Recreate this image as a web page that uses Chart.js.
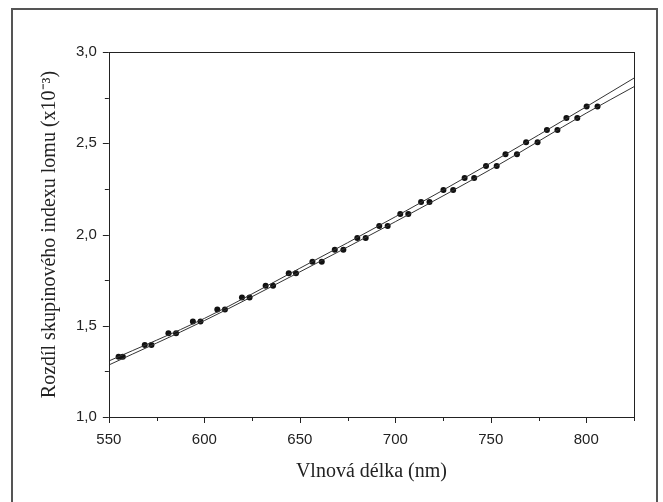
<!DOCTYPE html>
<html>
<head>
<meta charset="utf-8">
<script src="https://cdn.jsdelivr.net/npm/chart.js@4"></script>
<style>
  html, body { margin: 0; padding: 0; background: #fff; overflow: hidden; }
  #wrap { position: relative; width: 663px; height: 502px; overflow: hidden; }
  #frame { position: absolute; left: 11px; top: 8px; width: 647px; height: 520px; border: 2px solid #555; box-sizing: border-box; pointer-events: none; }
  canvas { position: absolute; left: 0; top: 0; }
</style>
</head>
<body>
<div id="wrap">
  <canvas id="chart" width="663" height="502"></canvas>
  <div id="frame"></div>
</div>
<script>
// measured points, upper series
const lambdaA = [555.1, 568.8, 581.2, 594.0, 606.8, 619.7, 632.1, 644.2, 656.6, 668.3, 680.1,
  691.6, 702.6, 713.5, 725.2, 736.3, 747.5, 757.7, 768.5, 779.4, 789.6, 800.2];
const deltaA = [1.33, 1.395, 1.459, 1.523, 1.589, 1.655, 1.719, 1.787, 1.851, 1.917, 1.981,
  2.047, 2.112, 2.178, 2.244, 2.310, 2.376, 2.440, 2.506, 2.572, 2.638, 2.702];

// measured points, lower series
const lambdaB = [557.3, 572.3, 585.2, 598.0, 610.8, 623.7, 636.0, 648.0, 661.5, 672.8, 684.5,
  696.0, 706.8, 717.9, 730.3, 741.3, 753.1, 763.7, 774.5, 784.9, 795.3, 805.9];
const deltaB = [1.33, 1.395, 1.459, 1.523, 1.589, 1.655, 1.719, 1.787, 1.851, 1.917, 1.981,
  2.047, 2.112, 2.178, 2.244, 2.310, 2.376, 2.440, 2.506, 2.572, 2.638, 2.702];

// fitted curves
const fitLambda = [550, 600, 650, 700, 750, 800, 825];
const fitA = [1.307, 1.54, 1.815, 2.097, 2.392, 2.70, 2.857];
const fitB = [1.285, 1.528, 1.795, 2.07, 2.357, 2.665, 2.81];

const xTicks = [550, 600, 650, 700, 750, 800];
const yTicks = [1.0, 1.5, 2.0, 2.5, 3.0];

const pts = (xs, ys) => xs.map((x, i) => ({ x: x, y: ys[i] }));

// box around plot + outward tick marks (major long, minor short)
const axisBox = {
  id: 'axisBox',
  afterDraw(chart) {
    const { ctx, chartArea: a, scales } = chart;
    ctx.save();
    ctx.strokeStyle = '#222';
    ctx.lineWidth = 1;
    ctx.strokeRect(Math.round(a.left) + 0.5, Math.round(a.top) + 0.5,
      Math.round(a.right - a.left), Math.round(a.bottom - a.top));
    ctx.beginPath();
    for (let v = 550; v <= 825; v += 25) {
      const px = Math.round(scales.x.getPixelForValue(v)) + 0.5;
      const len = v % 50 === 0 ? 6 : 4;
      ctx.moveTo(px, a.bottom);
      ctx.lineTo(px, a.bottom + len);
    }
    for (let v = 1.0; v <= 3.001; v += 0.25) {
      const py = Math.round(scales.y.getPixelForValue(v)) + 0.5;
      const len = Math.abs(v * 2 - Math.round(v * 2)) < 0.01 ? 6 : 4;
      ctx.moveTo(a.left, py);
      ctx.lineTo(a.left - len, py);
    }
    ctx.stroke();
    ctx.restore();
  }
};

const lineStyle = { showLine: true, borderColor: '#333', borderWidth: 1, pointRadius: 0, cubicInterpolationMode: 'monotone', fill: false };
const dotStyle = { showLine: false, pointRadius: 3, pointBackgroundColor: '#111', pointBorderWidth: 0 };

new Chart(document.getElementById('chart'), {
  type: 'scatter',
  data: {
    datasets: [
      Object.assign({ data: pts(fitLambda, fitA) }, lineStyle),
      Object.assign({ data: pts(fitLambda, fitB) }, lineStyle),
      Object.assign({ data: pts(lambdaA, deltaA) }, dotStyle),
      Object.assign({ data: pts(lambdaB, deltaB) }, dotStyle)
    ]
  },
  options: {
    responsive: false,
    animation: false,
    layout: { padding: { left: 34, right: 29, top: 52, bottom: 16 } },
    plugins: { legend: { display: false }, tooltip: { enabled: false } },
    scales: {
      x: {
        type: 'linear',
        min: 550, max: 825,
        afterBuildTicks: s => { s.ticks = xTicks.map(v => ({ value: v })); },
        grid: { display: false, drawTicks: false },
        border: { display: false },
        ticks: { padding: 15, color: '#222', font: { family: 'Liberation Sans', size: 15, lineHeight: 1 } },
        title: { display: true, text: 'Vlnová délka (nm)', color: '#222', padding: { top: 0, bottom: 4 },
          font: { family: 'Liberation Serif', size: 20, lineHeight: 1 } }
      },
      y: {
        min: 1.0, max: 3.0,
        afterBuildTicks: s => { s.ticks = yTicks.map(v => ({ value: v })); },
        grid: { display: false, drawTicks: false },
        border: { display: false },
        ticks: { padding: 12, color: '#222', font: { family: 'Liberation Sans', size: 15 },
          callback: v => v.toFixed(1).replace('.', ',') },
        title: { display: true, text: 'Rozdíl skupinového indexu lomu (x10⁻³)', color: '#222', padding: { top: 4, bottom: 2 },
          font: { family: 'Liberation Serif', size: 20 } }
      }
    }
  },
  plugins: [axisBox]
});
</script>
</body>
</html>
